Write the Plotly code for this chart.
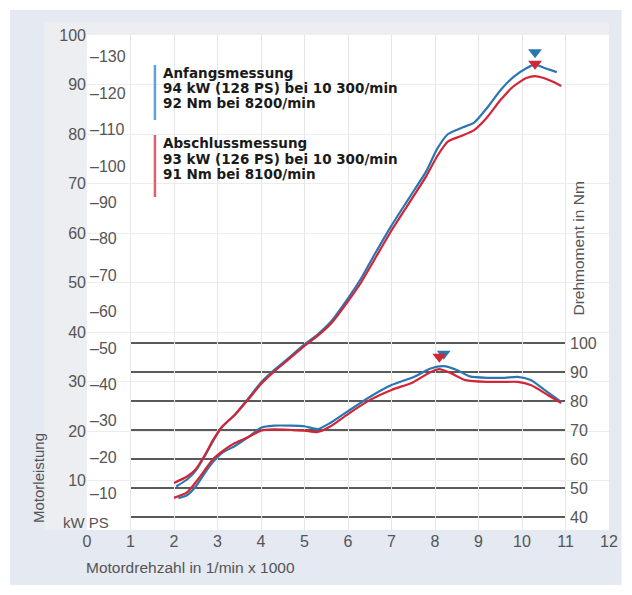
import plotly.graph_objects as go

# ---------------- data ----------------
rpm_power_a = [2.05, 2.3, 2.5, 2.7, 2.9, 3.1, 3.4, 3.7, 4.0, 4.3, 4.6, 5.0, 5.3, 5.6, 6.0, 6.3, 6.6,
               7.0, 7.4, 7.8, 8.05, 8.3, 8.6, 8.9, 9.2, 9.5, 9.8, 10.1, 10.3, 10.5, 10.8]
kw_a = [8.8, 10.2, 12.0, 14.8, 18.0, 20.8, 23.3, 26.5, 29.8, 32.3, 34.5, 37.5, 39.5, 42.0, 46.8, 50.8, 55.5,
        61.5, 67.0, 72.5, 77.0, 80.0, 81.2, 82.3, 85.3, 88.8, 91.5, 93.3, 94.0, 93.4, 92.5]

rpm_power_b = [2.0, 2.3, 2.5, 2.7, 2.9, 3.1, 3.4, 3.7, 4.0, 4.3, 4.6, 5.0, 5.3, 5.6, 6.0, 6.3, 6.6,
               7.0, 7.4, 7.8, 8.05, 8.3, 8.6, 8.9, 9.2, 9.5, 9.8, 10.1, 10.3, 10.5, 10.7, 10.9]
kw_b = [9.5, 10.8, 12.3, 15.0, 18.2, 20.8, 23.3, 26.3, 29.5, 32.0, 34.2, 37.2, 39.2, 41.6, 46.2, 50.0, 54.5,
        60.5, 66.0, 71.5, 75.5, 78.5, 79.6, 80.8, 83.4, 86.8, 89.6, 91.3, 91.7, 91.3, 90.6, 89.7]

rpm_torque_a = [2.1, 2.3, 2.5, 2.7, 2.9, 3.1, 3.4, 3.7, 4.0, 4.3, 4.7, 5.0, 5.3, 5.6, 6.0, 6.5, 7.0,
                7.5, 7.9, 8.2, 8.5, 8.8, 9.2, 9.6, 9.9, 10.2, 10.5, 10.9]
nm_a = [46.5, 47.5, 50.5, 55.0, 59.0, 62.0, 64.5, 67.5, 70.8, 71.5, 71.5, 71.3, 70.3, 72.5, 76.5, 81.4, 85.5,
        88.2, 91.2, 92.0, 90.7, 88.5, 88.0, 88.0, 88.3, 87.2, 84.0, 79.7]

rpm_torque_b = [2.0, 2.3, 2.5, 2.7, 2.9, 3.1, 3.4, 3.7, 4.0, 4.3, 4.7, 5.0, 5.3, 5.6, 6.0, 6.5, 7.0,
                7.5, 7.9, 8.1, 8.35, 8.7, 9.2, 9.6, 9.9, 10.2, 10.6, 10.9]
nm_b = [46.6, 48.5, 52.0, 56.0, 60.0, 62.5, 65.5, 67.5, 69.8, 70.2, 70.0, 69.8, 69.3, 71.3, 75.5, 80.3, 83.8,
        86.5, 90.0, 91.0, 89.7, 87.2, 86.6, 86.6, 86.6, 85.5, 82.0, 79.3]

x_ticks = list(range(0, 13))
kw_ticks = list(range(10, 101, 10))
ps_ticks = list(range(10, 131, 10))
nm_ticks = list(range(40, 101, 10))
PS_PER_KW = 1.36

legend_a = ["Anfangsmessung", "94 kW (128 PS) bei 10 300/min", "92 Nm bei 8200/min"]
legend_b = ["Abschlussmessung", "93 kW (126 PS) bei 10 300/min", "91 Nm bei 8100/min"]

# ---------------- layout helpers (page pixel coordinates) ----------------
BODY = 8                      # default page margin around the plot div
W, H = 632 - BODY, 595 - BODY
PL, PR, PT, PB = 87, 609.5, 35, 530   # plot area in page pixels
ML, MT = PL - BODY, PT - BODY
MR, MB = W - (PR - BODY), H - (PB - BODY)
PW, PH = PR - PL, PB - PT


def px(xp):
    return (xp - PL) / PW


def py(yp):
    return (PB - yp) / PH


BLUE = "#2b76b0"
RED = "#d22536"
FONT = "Liberation Sans, Arial, sans-serif"
LFONT = "DejaVu Sans, Liberation Sans, sans-serif"
GREY = "#555555"

fig = go.Figure()

# power curves
fig.add_trace(go.Scatter(x=rpm_power_a, y=kw_a, mode="lines", yaxis="y",
                         line=dict(color=BLUE, width=2.2, shape="spline", smoothing=0.6), showlegend=False))
fig.add_trace(go.Scatter(x=rpm_power_b, y=kw_b, mode="lines", yaxis="y",
                         line=dict(color=RED, width=2.2, shape="spline", smoothing=0.6), showlegend=False))
# torque curves
fig.add_trace(go.Scatter(x=rpm_torque_a, y=nm_a, mode="lines", yaxis="y2",
                         line=dict(color=BLUE, width=2.2, shape="spline", smoothing=0.6), showlegend=False))
fig.add_trace(go.Scatter(x=rpm_torque_b, y=nm_b, mode="lines", yaxis="y2",
                         line=dict(color=RED, width=2.2, shape="spline", smoothing=0.6), showlegend=False))


def peak(xs, ys):
    i = max(range(len(ys)), key=lambda k: ys[k])
    return xs[i], ys[i]


# peak markers (blue first, red on top)
for xs, ys, col, ax, off in [
    (rpm_power_a, kw_a, BLUE, "y", 2.5),
    (rpm_torque_a, nm_a, BLUE, "y2", 4.3),
    (rpm_power_b, kw_b, RED, "y", 2.5),
    (rpm_torque_b, nm_b, RED, "y2", 4.3),
]:
    xp, yp = peak(xs, ys)
    fig.add_trace(go.Scatter(x=[xp], y=[yp + off], mode="markers", yaxis=ax,
                             marker=dict(symbol="triangle-down", size=12, color=col),
                             showlegend=False, hoverinfo="skip"))

shapes = []
# outer background
shapes.append(dict(type="rect", xref="paper", yref="paper", x0=px(10), x1=px(622), y0=py(585), y1=py(10),
                   fillcolor="#e4e9f2", line=dict(width=0), layer="below"))
# label panel
shapes.append(dict(type="rect", xref="paper", yref="paper", x0=px(44), x1=1, y0=0, y1=py(22),
                   fillcolor="#eceef1", line=dict(width=0), layer="below"))
# white plot area
shapes.append(dict(type="rect", xref="paper", yref="paper", x0=0, x1=1, y0=0, y1=1,
                   fillcolor="#ffffff", line=dict(width=0), layer="below"))
# torque grid lines
for v in nm_ticks:
    shapes.append(dict(type="line", xref="x", yref="y2", x0=1, x1=11, y0=v, y1=v,
                       line=dict(color="#5a5a5a", width=1.8), layer="below"))
# legend colour bars
shapes.append(dict(type="line", xref="paper", yref="paper", x0=px(155), x1=px(155), y0=py(120), y1=py(65),
                   line=dict(color="#5aa3db", width=2.5)))
shapes.append(dict(type="line", xref="paper", yref="paper", x0=px(155), x1=px(155), y0=py(197), y1=py(135),
                   line=dict(color="#e2606e", width=2.5)))

annotations = []
for i, t in enumerate(legend_a):
    annotations.append(dict(text="<b>%s</b>" % t, xref="paper", yref="paper", x=px(161), y=py(73 + 15.2 * i),
                            xanchor="left", yanchor="middle", showarrow=False,
                            font=dict(family=LFONT, size=13.5, color="#1a1a1a")))
for i, t in enumerate(legend_b):
    annotations.append(dict(text="<b>%s</b>" % t, xref="paper", yref="paper", x=px(161), y=py(143 + 15.5 * i),
                            xanchor="left", yanchor="middle", showarrow=False,
                            font=dict(family=LFONT, size=13.5, color="#1a1a1a")))
# PS tick labels (second scale on the power axis)
for v in ps_ticks:
    annotations.append(dict(text="\u2013%d" % v, xref="x", yref="y", x=0, y=v / PS_PER_KW, xanchor="left",
                            yanchor="middle", xshift=1, showarrow=False,
                            font=dict(family=FONT, size=16, color=GREY)))
# torque tick labels
for v in nm_ticks:
    annotations.append(dict(text=str(v), xref="x", yref="y2", x=11, y=v, xanchor="left", yanchor="middle",
                            xshift=2, showarrow=False, font=dict(family=FONT, size=16, color=GREY)))
# unit labels
annotations.append(dict(text="kW PS", xref="paper", yref="paper", x=px(86), y=py(522), xanchor="center",
                        yanchor="middle", showarrow=False, font=dict(family=FONT, size=15, color=GREY)))
annotations.append(dict(text="Motorleistung", xref="paper", yref="paper", x=px(38), y=py(478), xanchor="center",
                        yanchor="middle", textangle=-90, showarrow=False,
                        font=dict(family=FONT, size=15, color=GREY)))
annotations.append(dict(text="Drehmoment in Nm", xref="paper", yref="paper", x=px(578), y=py(249),
                        xanchor="center", yanchor="middle", textangle=-90, showarrow=False,
                        font=dict(family=FONT, size=15.5, color=GREY)))
annotations.append(dict(text="Motordrehzahl in 1/min x 1000", xref="paper", yref="paper", x=px(191), y=py(567),
                        xanchor="center", yanchor="middle", showarrow=False,
                        font=dict(family=FONT, size=15.5, color=GREY)))

fig.update_layout(
    width=W, height=H, autosize=False,
    margin=dict(l=ML, r=MR, t=MT, b=MB, pad=0, autoexpand=False),
    paper_bgcolor="#ffffff", plot_bgcolor="rgba(0,0,0,0)",
    showlegend=False,
    xaxis=dict(range=[0, 12], tickvals=x_ticks, showgrid=True, gridcolor="#e6e6e6", gridwidth=1,
               zeroline=False, showline=False, ticks="", tickfont=dict(family=FONT, size=16, color=GREY)),
    yaxis=dict(range=[0, 100], tickvals=kw_ticks, showgrid=True, gridcolor="#ececec", gridwidth=1,
               zeroline=False, showline=False, ticks="", tickfont=dict(family=FONT, size=16, color=GREY)),
    yaxis2=dict(range=[35.52, 206.2], overlaying="y", side="right", showgrid=False, zeroline=False,
                showticklabels=False, showline=False, ticks=""),
    shapes=shapes,
    annotations=annotations,
)

fig.write_html("out.html")
